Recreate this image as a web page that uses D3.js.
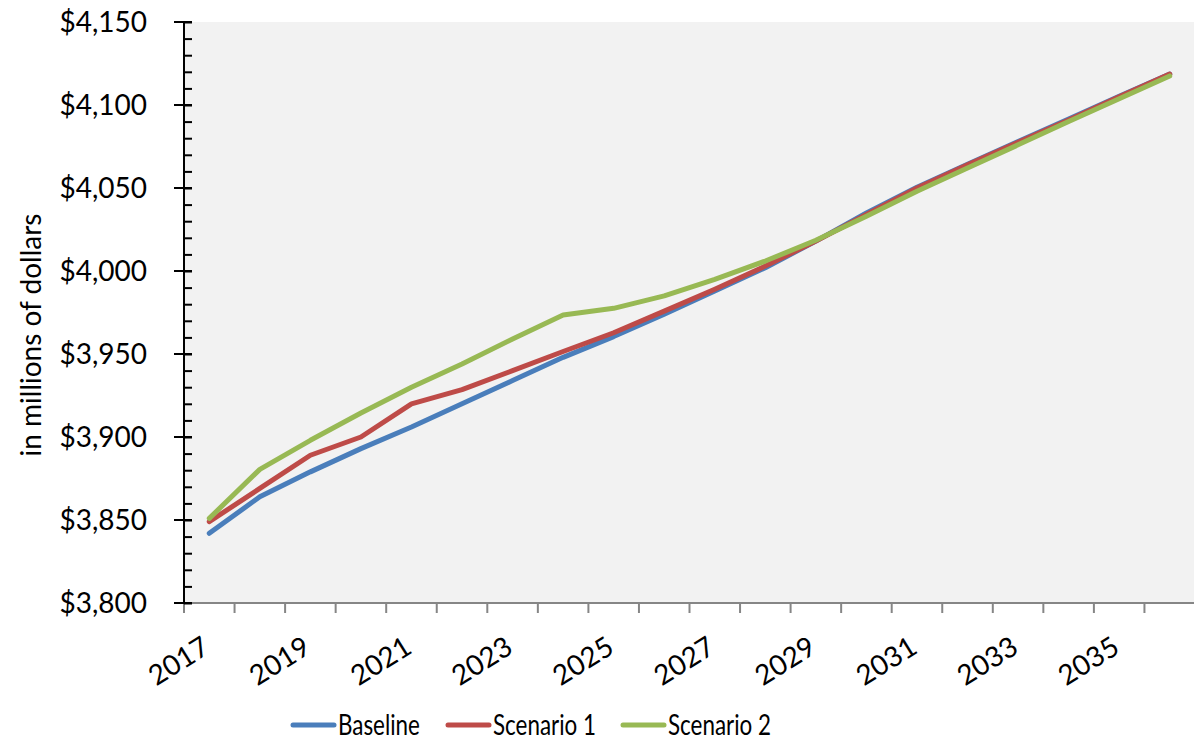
<!DOCTYPE html>
<html>
<head>
<meta charset="utf-8">
<script src="https://cdn.jsdelivr.net/npm/d3@7"></script>
<style>
  html, body { margin: 0; padding: 0; background: #ffffff; }
  svg { display: block; }
  text { font-family: Lato, "Open Sans", sans-serif; fill: #000; }
</style>
</head>
<body>
<script>
// Projected totals, in millions of dollars
const years = ["2017","2018","2019","2020","2021","2022","2023","2024","2025","2026",
               "2027","2028","2029","2030","2031","2032","2033","2034","2035","2036"];
const baseline  = [3842, 3864, 3879, 3893, 3906, 3920, 3934, 3948, 3960.5, 3974,
                   3988, 4002, 4018, 4035, 4050.5, 4064.3, 4078, 4091.5, 4105.2, 4118.6];
const scenario1 = [3849, 3869, 3889, 3900, 3920, 3928.5, 3940, 3951.5, 3962.8, 3975.8,
                   3989, 4003, 4018, 4034, 4050, 4064, 4077.5, 4091, 4105, 4118.6];
const scenario2 = [3851, 3880.5, 3898, 3914.5, 3930, 3944, 3959, 3973.5, 3977.5, 3985,
                   3995, 4006, 4018.5, 4033, 4048, 4062, 4076, 4090, 4103.8, 4117.5];
const seriesNames = ["Baseline", "Scenario 1", "Scenario 2"];
const yTicks = [3800, 3850, 3900, 3950, 4000, 4050, 4100, 4150];
const yLabel = "in millions of dollars";

const W = 1194, H = 744;
const plot = { left: 184, right: 1195, top: 22, bottom: 603 };
const colors = ["#4a7ebb", "#be4b48", "#98b954"];

const svg = d3.select("body").append("svg").attr("width", W).attr("height", H);

const x = d3.scaleBand().domain(years).range([plot.left, plot.right]).padding(0);
const y = d3.scaleLinear().domain([3800, 4150]).range([plot.bottom, plot.top]);
const cx = d => x(d) + x.bandwidth() / 2;

// plot area
svg.append("rect")
  .attr("x", plot.left).attr("y", plot.top)
  .attr("width", plot.right - plot.left).attr("height", plot.bottom - plot.top)
  .attr("fill", "#f2f2f2");

// x axis: ticks sit on category boundaries, labels on every other year
const xAxisG = svg.append("g");
const boundaries = years.map(d => x(d)).concat([x(years[years.length - 1]) + x.bandwidth()]);
xAxisG.selectAll("line.tick").data(boundaries).join("line")
  .attr("x1", d => d).attr("x2", d => d)
  .attr("y1", plot.bottom).attr("y2", plot.bottom + 10)
  .attr("stroke", "#868686").attr("stroke-width", 2);
xAxisG.append("line")
  .attr("x1", plot.left).attr("x2", plot.right)
  .attr("y1", plot.bottom).attr("y2", plot.bottom)
  .attr("stroke", "#868686").attr("stroke-width", 2);
xAxisG.selectAll("text").data(years.filter((d, i) => i % 2 === 0)).join("text")
  .attr("transform", d => `translate(${cx(d) + 2},${plot.bottom + 49}) rotate(-32)`)
  .attr("text-anchor", "end")
  .attr("font-size", 28)
  .text(d => d);

// y axis with minor ticks every 10
const yAxisG = svg.append("g").attr("transform", `translate(${plot.left},0)`);
yAxisG.call(d3.axisRight(y).tickValues(d3.range(3800, 4151, 10)).tickSize(8).tickFormat(""))
  .call(g => g.select(".domain").remove())
  .call(g => g.selectAll("line").attr("stroke", "#000").attr("stroke-width", 2));
yAxisG.call(g => g.selectAll(".major").data(yTicks).join("line")
  .attr("class", "major")
  .attr("x1", -10).attr("x2", 8)
  .attr("y1", d => y(d)).attr("y2", d => y(d))
  .attr("stroke", "#000").attr("stroke-width", 2));
yAxisG.append("line")
  .attr("x1", 0).attr("x2", 0).attr("y1", plot.top - 1).attr("y2", plot.bottom + 1)
  .attr("stroke", "#000").attr("stroke-width", 2);
svg.append("g").selectAll("text").data(yTicks).join("text")
  .attr("x", 147).attr("y", d => y(d))
  .attr("dy", "0.36em")
  .attr("text-anchor", "end")
  .attr("font-size", 28)
  .text(d => d3.format("$,")(d));

// axis title
svg.append("text")
  .attr("transform", `translate(41,335) rotate(-90)`)
  .attr("text-anchor", "middle")
  .attr("font-size", 28)
  .text(yLabel);

// series lines
const data = [baseline, scenario1, scenario2];
const line = d3.line().x((d, i) => cx(years[i])).y(d => y(d));
svg.append("g").selectAll("path").data(data).join("path")
  .attr("d", line)
  .attr("fill", "none")
  .attr("stroke", (d, i) => colors[i])
  .attr("stroke-width", 5)
  .attr("stroke-linejoin", "round")
  .attr("stroke-linecap", "round");

// legend
const legendX = [293, 448, 623];
const lg = svg.append("g").selectAll("g").data(seriesNames).join("g")
  .attr("transform", (d, i) => `translate(${legendX[i]},725)`);
lg.append("line")
  .attr("x1", 0).attr("x2", 41).attr("y1", 0).attr("y2", 0)
  .attr("stroke", (d, i) => colors[i]).attr("stroke-width", 5)
  .attr("stroke-linecap", "round");
lg.append("text")
  .attr("transform", "translate(45,10) scale(0.8,1)")
  .attr("font-size", 28)
  .text(d => d);
</script>
</body>
</html>
